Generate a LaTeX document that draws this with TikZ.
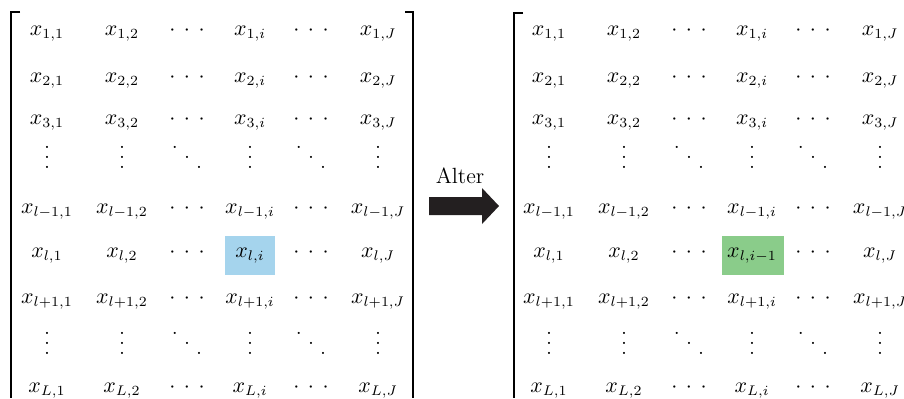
\documentclass[tikz,border=0pt]{standalone}
\usepackage{amsmath}
\DeclareMathSizes{11}{11}{7}{5.5}
\definecolor{hlblue}{RGB}{165,212,237}
\definecolor{hlgreen}{RGB}{138,204,138}
\definecolor{arrowc}{RGB}{35,31,32}
\newcommand\myvdots{\vbox{\baselineskip5pt\lineskiplimit0pt\hbox{.}\hbox{.}\hbox{.}}}
\newcommand\myddots{\mathinner{\mkern1mu\raise10pt\hbox{.}\mkern5mu\raise5pt\hbox{.}\mkern5mu\raise0pt\hbox{.}\mkern1mu}}
\newcommand\mycdots{\mathinner{\cdotp\mkern4mu\cdotp\mkern4mu\cdotp}}
\begin{document}
\begin{tikzpicture}[x=0.5pt,y=-0.5pt,
  ent/.style={anchor=base, inner sep=0pt, font=\fontsize{11}{13}\selectfont},
  brk/.style={line width=1.1pt, draw=black},
  hl/.style={inner sep=0pt, minimum height=19.5pt}]
\useasboundingbox (0,0) rectangle (904,398);
% highlighted cells
\node[hl, fill=hlblue, minimum width=25pt] (hb) at (250,255.5) {};
\node[hl, fill=hlgreen, minimum width=31pt] (hg) at (753,255.5) {};
% matrices
\foreach \off/\m/\li in {0/A/{i}, 502/B/{i-1}} {
  \foreach \r/\y/\ic [count=\k] in {1/35/i, 2/82/i, 3/124/i, l-1/213/i, l/257/\li, l+1/303/i, L/392/i} {
    \node[ent] (\m-\k-1) at (47+\off,\y) {$x_{\r,1}$};
    \node[ent] (\m-\k-2) at (122+\off,\y) {$x_{\r,2}$};
    \node[ent] (\m-\k-3) at (187+\off,\y) {$\mycdots$};
    \node[ent] (\m-\k-4) at (250+\off,\y) {$x_{\r,\ic}$};
    \node[ent] (\m-\k-5) at (311+\off,\y) {$\mycdots$};
    \node[ent] (\m-\k-6) at (378+\off,\y) {$x_{\r,J}$};
  }
  \foreach \y [count=\k] in {168,354} {
    \node[ent] (\m-v\k-1) at (47+\off,\y) {$\myvdots$};
    \node[ent] (\m-v\k-2) at (122+\off,\y) {$\myvdots$};
    \node[ent] (\m-v\k-3) at (187+\off,\y) {$\myddots$};
    \node[ent] (\m-v\k-4) at (250+\off,\y) {$\myvdots$};
    \node[ent] (\m-v\k-5) at (311+\off,\y) {$\myddots$};
    \node[ent] (\m-v\k-6) at (378+\off,\y) {$\myvdots$};
  }
}
% brackets
\draw[brk] (20,12) -- (11,12) -- (11,398);
\draw[brk] (405,12) -- (413,12) -- (413,398);
\draw[brk] (523,13) -- (514,13) -- (514,398);
% arrow
\node[ent, anchor=center] (alter) at (460,176) {Alter};
\fill[arrowc] (429,197) -- (482,197) -- (482,188) -- (499,206) -- (482,224) -- (482,215) -- (429,215) -- cycle;
\end{tikzpicture}
\end{document}
